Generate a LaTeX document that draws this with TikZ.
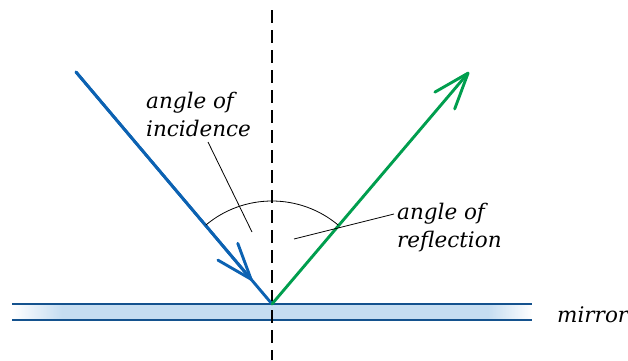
\documentclass[tikz,border=0pt]{standalone}
\usepackage{fontspec}
\newfontfamily\labelfont{DejaVu Serif}
\usetikzlibrary{arrows.meta, calc}
\definecolor{rayblue}{RGB}{12,98,178}
\definecolor{raygreen}{RGB}{0,158,78}
\definecolor{glassfill}{RGB}{197,221,241}
\definecolor{glassedge}{RGB}{20,82,142}

\begin{document}
\begin{tikzpicture}[x=1pt, y=-1pt,
    ray/.style={line width=2.9pt, line cap=round},
    barb/.style={-{Straight Barb[length=36pt, width=26pt, round]}},
    pointer/.style={line width=0.8pt},
    normal/.style={line width=1.3pt, dash pattern=on 13pt off 7pt},
    edge/.style={draw=glassedge, line width=1.2pt},
    textlabel/.style={font=\labelfont\itshape\fontsize{21.5}{28}\selectfont,
                      align=left, anchor=west, inner sep=0pt}
]
    \useasboundingbox (0,0) rectangle (628,360);

    % Mirror
    \fill[left color=white, right color=glassfill] (12,304) rectangle (62,320);
    \fill[glassfill] (62,304) rectangle (488,320);
    \fill[left color=glassfill, right color=white] (488,304) rectangle (532,320);
    \coordinate (mtl) at (12,304);
    \coordinate (mtr) at (532,304);
    \coordinate (mbl) at (12,320);
    \coordinate (mbr) at (532,320);
    \draw[edge] (mtl) -- (mtr);
    \draw[edge] (mbl) -- (mbr);

    % Normal
    \coordinate (ntop) at (272,10);
    \coordinate (nbot) at (272,360);
    \draw[normal] (ntop) -- (nbot);

    % Rays
    \coordinate (o) at (272,304);
    \coordinate (src) at (76,72);
    \coordinate (dst) at (469,72);
    \draw[ray, rayblue] (src) -- (o);
    \draw[ray, rayblue, barb] (src) -- ($(src)!0.898!(o)$);
    \draw[ray, raygreen, barb] (o) -- (dst);

    % Angle arc
    \draw[pointer] ($(o)+(-130:103)$) arc[start angle=-130, end angle=-50, radius=103];

    % Labels
    \node[textlabel] (inc) at (146,114) {angle of\\incidence};
    \node[textlabel] (refl) at (397,228) {angle of\\reflection};
    \node[textlabel] (mir) at (557,315) {mirror};
    \coordinate (pa) at (208,142);
    \coordinate (pb) at (252,232);
    \coordinate (pc) at (294,239);
    \coordinate (pd) at (394,214);
    \draw[pointer] (pa) -- (pb);
    \draw[pointer] (pc) -- (pd);
\end{tikzpicture}
\end{document}
